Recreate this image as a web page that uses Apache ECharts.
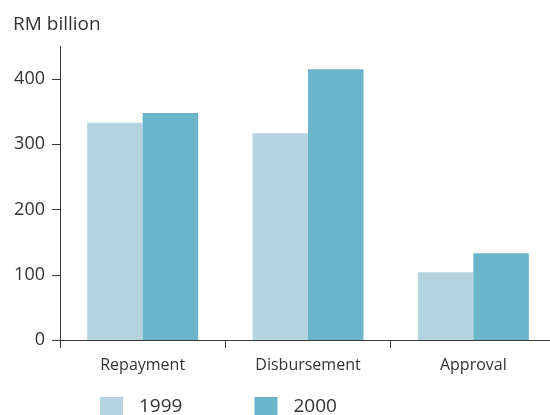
<!DOCTYPE html>
<html>
<head>
<meta charset="utf-8">
<script src="https://cdn.jsdelivr.net/npm/echarts@6/dist/echarts.min.js"></script>
<style>
  html, body { margin: 0; padding: 0; background: #fff; }
  #chart { width: 550px; height: 415px; }
</style>
</head>
<body>
<div id="chart"></div>
<script>
// Loan activity, RM billion
const categories = ['Repayment', 'Disbursement', 'Approval'];
const values1999 = [333, 317, 104];
const values2000 = [348, 415, 133];
const yTicks = [0, 100, 200, 300, 400];

const FONT = '"Open Sans", "Noto Sans", sans-serif';
const AXIS_COLOR = '#3a3a3a';
const TEXT_COLOR = '#333';

const chart = echarts.init(document.getElementById('chart'), null, { renderer: 'canvas' });

chart.setOption({
  animation: false,
  textStyle: { fontFamily: FONT },
  title: {
    text: 'RM billion',
    left: 8,
    top: 10,
    textStyle: { fontFamily: FONT, fontSize: 19, fontWeight: 'normal', color: TEXT_COLOR }
  },
  legend: {
    left: 95,
    top: 392,
    itemWidth: 23,
    itemHeight: 20,
    itemGap: 72,
    icon: 'rect',
    textStyle: { fontFamily: FONT, fontSize: 19, color: TEXT_COLOR, padding: [0, 0, 0, 11] },
    data: ['1999', '2000']
  },
  grid: {
    left: 60, width: 496, top: 46.4, bottom: 67.8,
    containLabel: false, outerBoundsMode: 'none'
  },
  xAxis: {
    type: 'category',
    data: categories,
    axisLine: { onZero: true, lineStyle: { color: AXIS_COLOR, width: 1 } },
    axisTick: { show: true, length: 8, alignWithLabel: false, lineStyle: { color: AXIS_COLOR } },
    axisLabel: { fontFamily: FONT, fontSize: 16, color: TEXT_COLOR, margin: 10 },
    splitLine: { show: false }
  },
  yAxis: {
    type: 'value',
    min: -11,
    max: 450,
    axisLine: { show: true, lineStyle: { color: AXIS_COLOR, width: 1 } },
    axisTick: { show: true, length: 8, customValues: yTicks, lineStyle: { color: AXIS_COLOR } },
    axisLabel: { fontFamily: FONT, fontSize: 18, color: TEXT_COLOR, margin: 15, customValues: yTicks },
    splitLine: { show: false }
  },
  series: [
    {
      name: '1999',
      type: 'bar',
      data: values1999,
      barWidth: 55.5,
      barGap: '0%',
      itemStyle: { color: '#b4d5e0' }
    },
    {
      name: '2000',
      type: 'bar',
      data: values2000,
      barWidth: 55.5,
      barGap: '0%',
      itemStyle: { color: '#6ab5c9' }
    }
  ]
});
</script>
</body>
</html>
